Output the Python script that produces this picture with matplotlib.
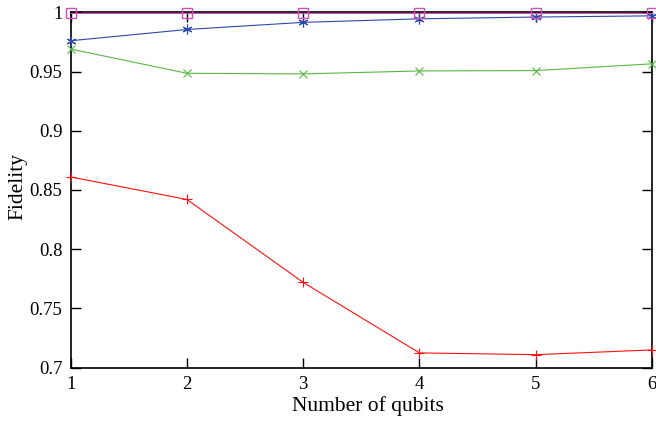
import matplotlib
matplotlib.use('Agg')
import matplotlib.pyplot as plt

qubits = [1, 2, 3, 4, 5, 6]
fid_red = [0.861, 0.842, 0.772, 0.7125, 0.711, 0.715]
fid_green = [0.969, 0.9485, 0.948, 0.9505, 0.9508, 0.9565]
fid_blue = [0.976, 0.9855, 0.9915, 0.9945, 0.996, 0.997]
fid_magenta = [0.9995, 0.9995, 0.9995, 0.9995, 0.9995, 0.9995]

yticks = [0.7, 0.75, 0.8, 0.85, 0.9, 0.95, 1]
ytick_labels = ['0.7', '0.75', '0.8', '0.85', '0.9', '0.95', '1']

plt.rcParams['font.family'] = ['Liberation Serif', 'DejaVu Serif']

fig = plt.figure(figsize=(6.56, 4.22), dpi=100)
ax = fig.add_axes([70.7 / 656, 1 - 367.7 / 422, (652 - 70.7) / 656, (367.7 - 12.3) / 422])

ax.plot(qubits, fid_red, color='#ff1010', lw=0.8, marker='+', ms=6.5, mew=0.8, clip_on=False)
ax.plot(qubits, fid_green, color='#58b845', lw=0.8, marker='x', ms=5.5, mew=0.8, clip_on=False)
ax.plot(qubits, fid_blue, color='#2c48aa', lw=0.8, marker=(6, 2, 0), ms=7, mew=0.8, clip_on=False)
# this one sits right on the top frame, so draw it over the spine
ax.plot(qubits, fid_magenta, color='#d050b8', lw=0.8, marker='s', ms=6.5, mew=1.0,
        mfc='none', clip_on=False, zorder=4)

ax.set_xlim(1, 6)
ax.set_ylim(0.7, 1)
ax.set_xticks(qubits)
ax.set_yticks(yticks)
ax.set_yticklabels(ytick_labels)
ax.tick_params(direction='in', top=True, right=True, length=7, width=1, labelsize=13.5, pad=6)
for s in ax.spines.values():
    s.set_linewidth(1.2)
    s.set_zorder(1)

ax.set_xlabel('Number of qubits', fontsize=15.5)
ax.xaxis.set_label_coords(0.5106, -0.08)
ax.set_ylabel('Fidelity', fontsize=15.5)
ax.yaxis.set_label_coords(-0.075, 0.51)

fig.savefig('out.png', dpi=100)
